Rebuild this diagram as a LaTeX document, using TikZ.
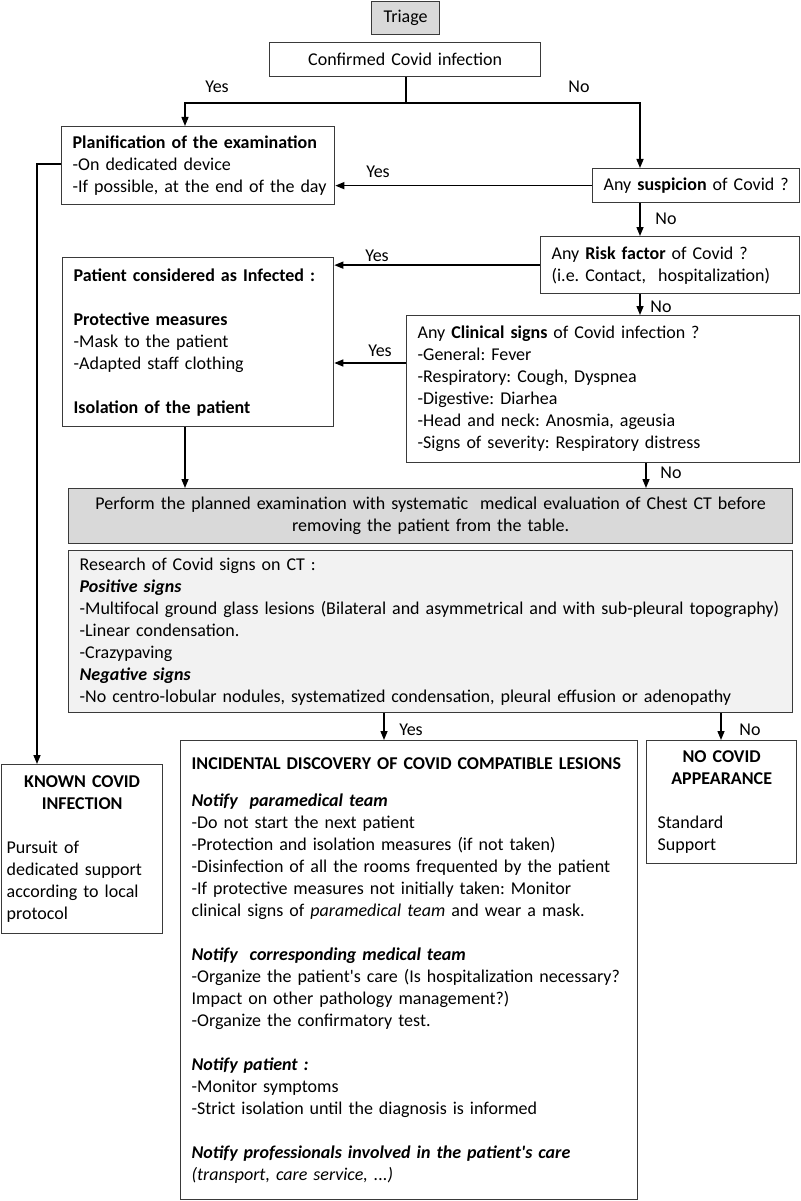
\documentclass[tikz,border=0pt]{standalone}
\usepackage{fontspec}
\setmainfont{Carlito}
\usetikzlibrary{arrows.meta}
\definecolor{bordc}{HTML}{3A3A3A}
\definecolor{grayA}{HTML}{D9D9D9}
\definecolor{grayB}{HTML}{F2F2F2}
\frenchspacing
\hyphenpenalty=10000
\exhyphenpenalty=10000
\begin{document}
\begin{tikzpicture}[x=1pt,y=-1pt,
  box/.style={draw=bordc, line width=1.3pt, anchor=north west, inner xsep=11pt, inner ysep=0pt,
    font=\fontsize{18}{22}\selectfont\frenchspacing, align=left},
  lbl/.style={font=\fontsize{18}{22}\selectfont, inner sep=0pt},
  arr/.style={line width=1.4pt, -{Triangle[length=9pt,width=7pt]}},
  ln/.style={line width=1.4pt}]
\useasboundingbox[fill=white] (0,0) rectangle (800,1201);

% boxes
\node[box, fill=grayA, text width=46pt, align=center, minimum height=33pt] (triage) at (371,1) {Triage};
\node[box, text width=249pt, align=center, minimum height=34pt] (confirmed) at (269,42) {Confirmed Covid infection};
\node[box, text width=251pt, minimum height=78pt] (plan) at (61,126)
  {\mbox{\textbf{Planification of the examination}}\\-On dedicated device\\\mbox{-If possible, at the end of the day}};
\node[box, inner xsep=11pt, text width=185pt, minimum height=34pt] (susp) at (592,168) {\mbox{Any \textbf{suspicion} of Covid ?}};
\node[box, text width=237pt, minimum height=57pt] (risk) at (540,236)
  {Any \textbf{Risk factor} of Covid ?\\\mbox{(i.e. Contact,~ hospitalization)}};
\node[box, text width=249pt, minimum height=169pt] (patient) at (62,257)
  {\mbox{\textbf{Patient considered as Infected :}}\\[22pt]\textbf{Protective measures}\\-Mask to the patient\\-Adapted staff clothing\\[22pt]\textbf{Isolation of the patient}};
\node[box, text width=371pt, minimum height=147pt] (clinical) at (406,315)
  {Any \textbf{Clinical signs} of Covid infection ?\\-General: Fever\\-Respiratory: Cough, Dyspnea\\-Digestive: Diarhea\\-Head and neck: Anosmia, ageusia\\-Signs of severity: Respiratory distress};
\node[box, fill=grayA, text width=702pt, align=center, minimum height=55pt] (perform) at (68,488)
  {Perform the planned examination with systematic~ medical evaluation of Chest CT before\\removing the patient from the table.};
\node[box, fill=grayB, text width=702pt, minimum height=162pt] (research) at (68,550)
  {Research of Covid signs on CT :\\\textbf{\textit{Positive signs}}\\\mbox{-Multifocal ground glass lesions (Bilateral and asymmetrical and with sub-pleural topography)}\\-Linear condensation.\\-Crazypaving\\\textbf{\textit{Negative signs}}\\-No centro-lobular nodules, systematized condensation, pleural effusion or adenopathy};
\node[box, inner xsep=5pt, text width=151pt, minimum height=169pt] (known) at (1,764)
  {{\centering\textbf{KNOWN COVID\\INFECTION}\par}\vspace{22pt}Pursuit of\\\mbox{dedicated support}\\according to local\\protocol};
\node[box, text width=435pt, minimum height=459pt] (incid) at (180,740)
  {\mbox{\textbf{INCIDENTAL DISCOVERY OF COVID COMPATIBLE LESIONS}}\\[15pt]\textbf{\textit{Notify~ paramedical team}}\\-Do not start the next patient\\-Protection and isolation measures (if not taken)\\\mbox{-Disinfection of all the rooms frequented by the patient}\\-If protective measures not initially taken: Monitor\\clinical signs of \textit{paramedical team} and wear a mask.\\[22pt]\textbf{\textit{Notify~ corresponding medical team}}\\\mbox{-Organize the patient\textquotesingle s care (Is hospitalization necessary?}\\Impact on other pathology management?)\\-Organize the confirmatory test.\\[22pt]\textbf{\textit{Notify patient :}}\\-Monitor symptoms\\-Strict isolation until the diagnosis is informed\\[22pt]\textbf{\textit{Notify professionals involved in the patient\textquotesingle s care}}\\\textit{(transport, care service, ...)}};
\node[box, text width=128pt, minimum height=123pt] (nocovid) at (646,740)
  {{\centering\textbf{NO COVID\\APPEARANCE}\par}\vspace{22pt}Standard\\Support};

% helper coordinates
\coordinate (split) at (406,103);
\coordinate (xl) at (185,0);
\coordinate (xr) at (640,0);
\coordinate (xc) at (646,0);
\coordinate (xk) at (37,0);
\coordinate (xy) at (384,0);
\coordinate (xn) at (721,0);
\coordinate (yc) at (0,363);
\coordinate (yk) at (0,164);

% connectors
\draw[ln] (confirmed.south -| split) -- (split);
\draw[arr] (split) -| (xl |- plan.north);
\draw[arr] (split) -| (xr |- susp.north);
\draw[arr] (susp.west) -- (susp.west -| plan.east);
\draw[arr] (xr |- susp.south) -- (xr |- risk.north);
\draw[arr] (risk.west) -- (risk.west -| patient.east);
\draw[arr] (xr |- risk.south) -- (xr |- clinical.north);
\draw[arr] (clinical.west |- yc) -- (patient.east |- yc);
\draw[arr] (xl |- patient.south) -- (xl |- perform.north);
\draw[arr] (xc |- clinical.south) -- (xc |- perform.north);
\draw[arr] (plan.west |- yk) -| (xk |- known.north);
\draw[arr] (xy |- research.south) -- (xy |- incid.north);
\draw[arr] (xn |- research.south) -- (xn |- nocovid.north);

% labels
\node[lbl] (l1) at (217,87) {Yes};
\node[lbl] (l2) at (579,87) {No};
\node[lbl] (l3) at (378,172) {Yes};
\node[lbl] (l4) at (666,219) {No};
\node[lbl] (l5) at (377,256) {Yes};
\node[lbl] (l6) at (661,307) {No};
\node[lbl] (l7) at (380,351) {Yes};
\node[lbl] (l8) at (671,473) {No};
\node[lbl] (l9) at (411,730) {Yes};
\node[lbl] (l10) at (750,730) {No};
\end{tikzpicture}
\end{document}
